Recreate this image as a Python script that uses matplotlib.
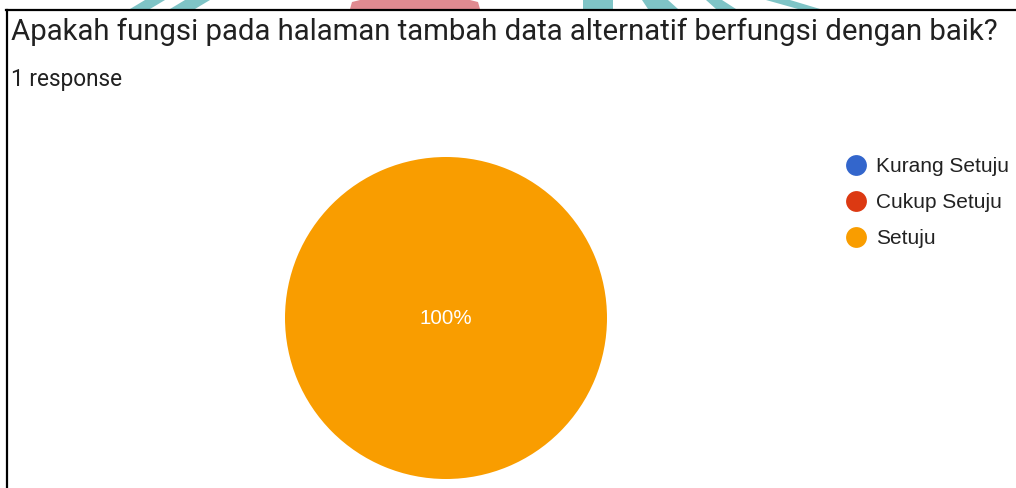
import matplotlib
matplotlib.use("Agg")
import matplotlib.pyplot as plt
from matplotlib.lines import Line2D
from matplotlib.patches import Polygon

categories = ["Kurang Setuju", "Cukup Setuju", "Setuju"]
values = [0, 0, 1]
colors = ["#3366cc", "#dc3912", "#f99d00"]
title = "Apakah fungsi pada halaman tambah data alternatif berfungsi dengan baik?"
subtitle = "1 response"

W, H = 1016, 488
fig = plt.figure(figsize=(W / 100, H / 100), dpi=100)
fig.patch.set_facecolor("white")

def fx(x):
    return x / W

def fy(y):
    return 1 - y / H

# decorative background strip above the frame
teal = "#7fc4c6"
pink = "#e08a90"
deco = [
    (teal, [(145, 0), (165, 0), (150, 9), (130, 9)]),
    (teal, [(185, 0), (210, 0), (195, 9), (170, 9)]),
    (pink, [(350, 9), (352, 2), (360, 0), (470, 0), (478, 2), (480, 9)]),
    (teal, [(583, 0), (613, 0), (613, 9), (583, 9)]),
    (teal, [(642, 0), (668, 0), (678, 9), (648, 9)]),
    (teal, [(706, 0), (722, 0), (736, 9), (716, 9)]),
    (teal, [(766, 0), (790, 0), (820, 9), (798, 9)]),
]
for col, pts in deco:
    fig.patches.append(Polygon([(fx(x), fy(y)) for x, y in pts], closed=True,
                               facecolor=col, edgecolor="none",
                               transform=fig.transFigure, figure=fig))

# frame lines
fig.lines.append(Line2D([fx(6), fx(W)], [fy(9.5), fy(9.5)], color="black", lw=1.6,
                        transform=fig.transFigure, figure=fig))
fig.lines.append(Line2D([fx(6.5), fx(6.5)], [fy(9.5), fy(H)], color="black", lw=1.6,
                        transform=fig.transFigure, figure=fig))

# texts
fig.text(fx(11), fy(40), title, fontsize=21.2, family="Roboto", color="#212121",
         va="baseline", ha="left")
fig.text(fx(11), fy(86), subtitle, fontsize=16.3, family="Roboto", color="#212121",
         va="baseline", ha="left")

# pie
cx, cy, r = 446, 318, 161
ax = fig.add_axes([fx(cx - r), fy(cy + r), 2 * r / W, 2 * r / H])
def pct(p):
    return f"{p:.0f}%" if p > 0 else ""
wedges, texts, autotexts = ax.pie(values, colors=colors, startangle=90, counterclock=False,
                                  autopct=pct, pctdistance=0.0, radius=1.0,
                                  wedgeprops=dict(linewidth=0))
for t in autotexts:
    t.set_color("white")
    t.set_fontsize(14.8)
    t.set_fontfamily("Liberation Sans")
ax.set_xlim(-1, 1)
ax.set_ylim(-1, 1)
ax.set_aspect("equal")
ax.axis("off")

# legend
handles = [Line2D([0], [0], marker="o", linestyle="none", markersize=15,
                  markerfacecolor=c, markeredgecolor="none") for c in colors]
leg = fig.legend(handles, categories, loc="upper left",
                 bbox_to_anchor=(fx(846), fy(157)), frameon=False,
                 prop=dict(family="Liberation Sans", size=15),
                 handlelength=1.0, handletextpad=0.46, labelspacing=0.82,
                 borderpad=0, borderaxespad=0, labelcolor="#222222")

fig.savefig("out.png", dpi=100, facecolor="white")
